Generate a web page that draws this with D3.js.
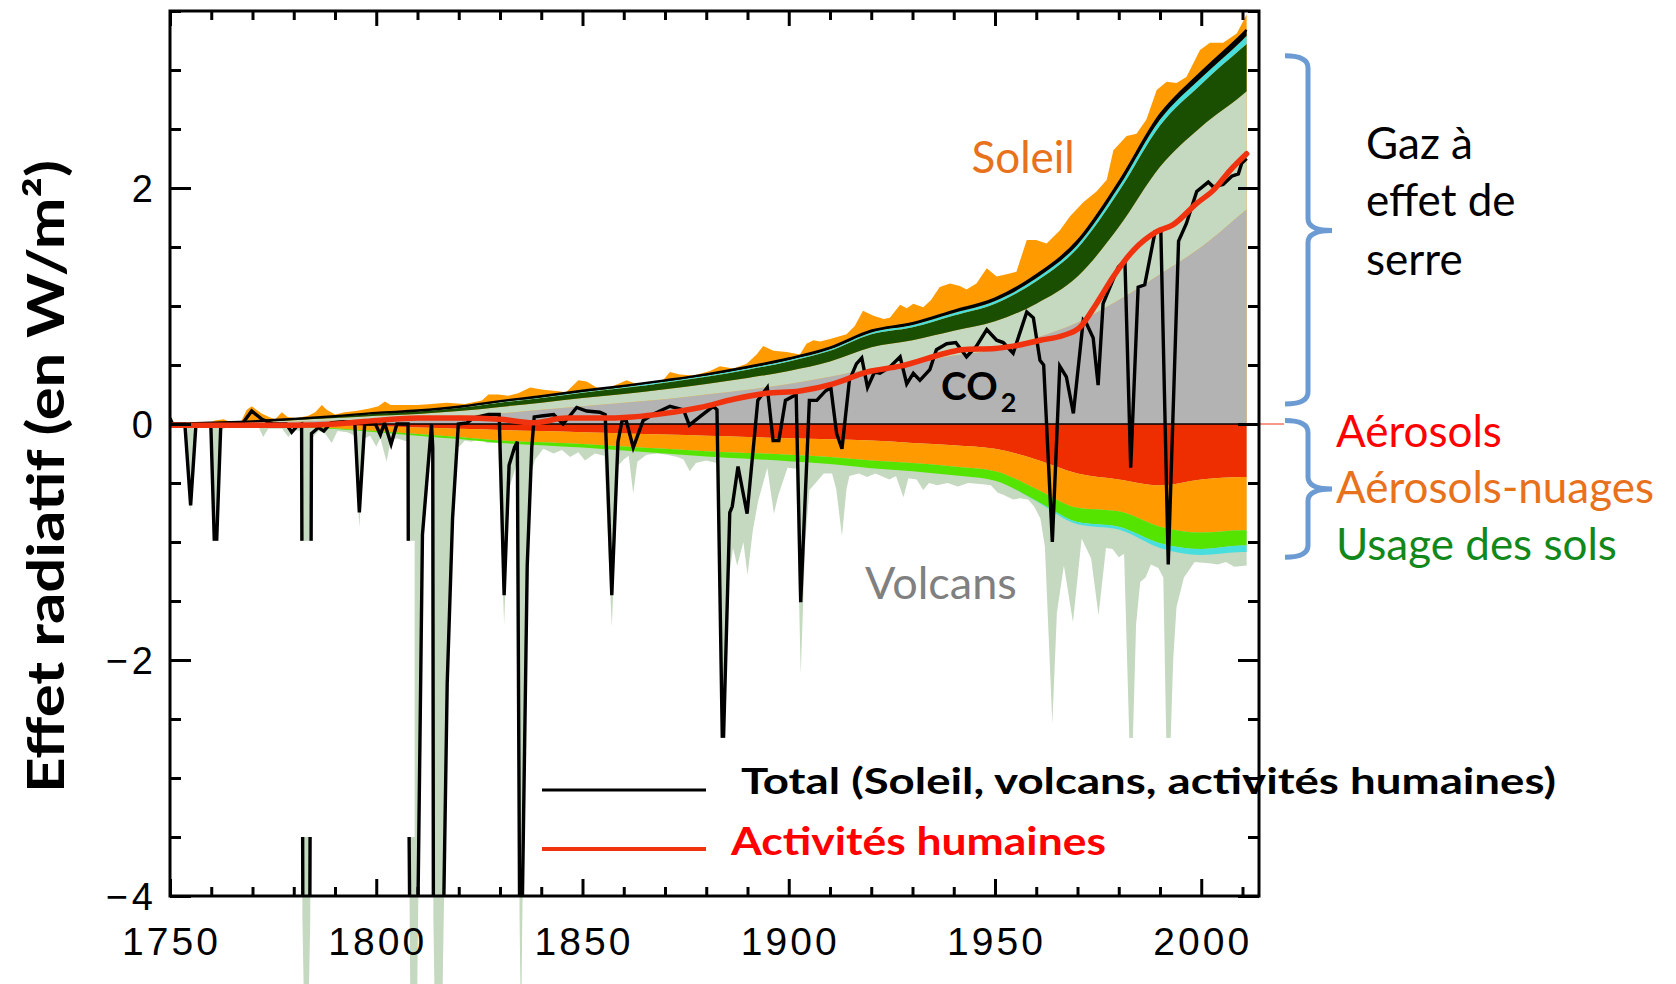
<!DOCTYPE html>
<html lang="fr">
<head>
<meta charset="utf-8">
<title>Effet radiatif 1750–2011</title>
<script src="https://cdn.jsdelivr.net/npm/d3@7"></script>
<style>
  html, body { margin: 0; padding: 0; background: #fff; }
  svg { display: block; }
</style>
</head>
<body>
<svg id="chart" width="1676" height="984"></svg>
<script>
// ---- Décennies et composantes du forçage (W/m²) ----
const annees = [1750,1760,1770,1780,1790,1800,1810,1820,1830,1840,1850,1860,1870,1880,1890,1900,1910,1920,1930,1940,1950,1960,1970,1980,1990,2000,2010,2011];

// composantes positives (empilées vers le haut)
const co2        = [0,0.005,0.01,0.02,0.03,0.04,0.05,0.07,0.09,0.12,0.15,0.18,0.21,0.25,0.29,0.34,0.40,0.47,0.52,0.58,0.63,0.73,0.86,1.05,1.27,1.50,1.79,1.82];
const autresGES  = [0,0.003,0.006,0.012,0.02,0.03,0.035,0.04,0.055,0.06,0.07,0.075,0.085,0.09,0.10,0.11,0.13,0.18,0.19,0.21,0.24,0.29,0.39,0.62,0.91,1.02,1.00,1.00];
const ozone      = [0,0.002,0.004,0.008,0.012,0.017,0.02,0.025,0.035,0.04,0.045,0.05,0.055,0.06,0.07,0.08,0.09,0.11,0.11,0.13,0.15,0.19,0.24,0.30,0.35,0.36,0.40,0.40];
const vapeurStrato = [0,0,0,0,0,0.002,0.003,0.004,0.006,0.007,0.008,0.009,0.01,0.011,0.012,0.013,0.014,0.016,0.018,0.02,0.022,0.025,0.03,0.04,0.05,0.055,0.065,0.07];
const carboneSuie  = [0,0,0.002,0.003,0.004,0.005,0.006,0.007,0.008,0.008,0.009,0.009,0.01,0.01,0.011,0.012,0.013,0.015,0.016,0.018,0.02,0.025,0.03,0.035,0.04,0.045,0.05,0.05];

// composantes négatives (empilées vers le bas)
const aerosols       = [0,-0.001,-0.003,-0.006,-0.01,-0.02,-0.03,-0.04,-0.05,-0.06,-0.07,-0.08,-0.09,-0.10,-0.11,-0.12,-0.13,-0.14,-0.16,-0.18,-0.21,-0.30,-0.42,-0.47,-0.52,-0.47,-0.45,-0.45];
const aerosolsNuages = [0,-0.003,-0.006,-0.015,-0.025,-0.04,-0.055,-0.07,-0.09,-0.095,-0.10,-0.11,-0.12,-0.13,-0.135,-0.14,-0.15,-0.17,-0.17,-0.18,-0.19,-0.25,-0.29,-0.27,-0.35,-0.45,-0.45,-0.45];
const usageSols      = [0,-0.001,-0.002,-0.004,-0.007,-0.01,-0.015,-0.018,-0.02,-0.025,-0.03,-0.035,-0.04,-0.045,-0.05,-0.055,-0.06,-0.065,-0.07,-0.075,-0.08,-0.10,-0.12,-0.13,-0.14,-0.14,-0.13,-0.13];
const autresNeg      = [0,0,0,0,0,0,0,0,0,0,0,0,0,0,0,0,0,0,0,0,0,-0.005,-0.02,-0.025,-0.04,-0.05,-0.055,-0.055];

// enveloppe haute de la bande solaire [année, W/m²]
const soleil = [[1750,0],[1759,0],[1760.9,0.03],[1763,0.04],[1765,0.01],[1767,0.005],[1768.6,0.12],[1769.8,0.15],[1772.2,0.09],[1774,0.06],[1775.5,0.04],[1777.1,0.10],[1778.5,0.06],[1780.5,0.05],[1782,0.06],[1783.5,0.07],[1785.2,0.10],[1786.8,0.16],[1788,0.12],[1790,0.08],[1792.4,0.10],[1795,0.11],[1798.1,0.13],[1800.5,0.15],[1802.1,0.19],[1803.5,0.16],[1807,0.16],[1810,0.16],[1813.4,0.17],[1817,0.18],[1821.5,0.17],[1825.6,0.2],[1827.2,0.25],[1829.6,0.25],[1832,0.24],[1834.4,0.26],[1837.3,0.31],[1840.5,0.29],[1843.7,0.28],[1846,0.27],[1849,0.37],[1851,0.36],[1853.4,0.31],[1856,0.3],[1860.7,0.37],[1863,0.34],[1866.4,0.31],[1869.5,0.37],[1871.2,0.44],[1873.6,0.42],[1876.9,0.41],[1880.9,0.45],[1883.3,0.49],[1886.6,0.47],[1889.8,0.51],[1892.2,0.59],[1893.8,0.66],[1896.3,0.62],[1899.5,0.61],[1902.7,0.59],[1904.3,0.68],[1906,0.71],[1907.6,0.7],[1910,0.72],[1914,0.76],[1916,0.83],[1918,0.96],[1920.4,0.92],[1923,0.89],[1924.5,0.9],[1927,1.01],[1928.6,0.98],[1930.2,1.02],[1932.6,0.99],[1934.5,1.05],[1936.6,1.16],[1939.1,1.19],[1941.5,1.17],[1943.1,1.14],[1945.5,1.19],[1948,1.32],[1950.4,1.25],[1952.8,1.27],[1955.2,1.29],[1957.7,1.56],[1960,1.56],[1962.5,1.53],[1965.7,1.64],[1968.2,1.76],[1971.4,1.88],[1974.6,1.97],[1977.1,2.07],[1978.7,2.32],[1981.9,2.44],[1984.3,2.46],[1986.7,2.58],[1989.2,2.83],[1991.6,2.9],[1994,2.89],[1996.4,2.94],[1999.7,3.17],[2002.1,3.23],[2005.3,3.23],[2008.6,3.31],[2011,3.47]];

// enveloppe basse de la bande volcanique [année, W/m²]
const volcans = [[1750,0],[1753.6,-0.01],[1755,-0.75],[1756.3,-0.03],[1759.9,-0.03],[1761,-1.4],[1762.3,-0.05],[1765,-0.01],[1771.4,-0.02],[1772.6,-0.11],[1773.8,-0.04],[1777.2,-0.04],[1778.7,-0.11],[1780,-0.05],[1781.8,-0.06],[1782.1,-4.2],[1783.05,-6],[1784,-4.2],[1784.4,-0.12],[1786,-0.06],[1787.6,-0.08],[1789.2,-0.16],[1790.6,-0.06],[1793,-0.07],[1794.8,-0.1],[1795.9,-0.88],[1797.2,-0.12],[1798.5,-0.1],[1800,-0.19],[1801,-0.12],[1802.5,-0.32],[1803.5,-0.14],[1805,-0.12],[1807.6,-0.15],[1807.9,-3.2],[1808.6,-6.5],[1809.7,-6],[1810,-4.6],[1811.2,-1.05],[1813.3,-0.15],[1813.7,-0.3],[1813.85,-4.2],[1815.1,-7],[1816.35,-4.2],[1817.2,-2.3],[1818.5,-0.9],[1819.9,-0.2],[1821.5,-0.14],[1823,-0.15],[1825,-0.13],[1827,-0.16],[1829.5,-0.16],[1831,-1.7],[1832.2,-0.55],[1833.5,-0.4],[1834.2,-0.3],[1834.75,-4.2],[1835.1,-5.2],[1835.4,-4.2],[1836.6,-1.4],[1837.7,-0.4],[1838.5,-0.3],[1840.5,-0.21],[1843,-0.25],[1845,-0.22],[1847,-0.28],[1849,-0.24],[1850.6,-0.31],[1853,-0.25],[1855.3,-0.27],[1857.1,-1.72],[1858.7,-0.35],[1860,-0.3],[1861.2,-0.27],[1862.3,-0.59],[1863.3,-0.32],[1865.5,-0.26],[1868,-0.25],[1870.5,-0.26],[1873,-0.28],[1874.5,-0.3],[1876,-0.4],[1877.5,-0.33],[1880,-0.31],[1882.6,-0.33],[1884,-3.2],[1885.5,-1.3],[1886.5,-1.05],[1887.5,-1.2],[1889,-1.0],[1890,-1.28],[1891.3,-0.9],[1892.6,-0.65],[1894.8,-0.37],[1896.4,-0.76],[1897.5,-0.6],[1899.7,-0.37],[1901.8,-0.38],[1902.9,-2.12],[1904,-1.0],[1905,-0.56],[1906.5,-0.5],[1908.5,-0.42],[1910.5,-0.42],[1911.5,-0.55],[1912.9,-0.95],[1914,-0.55],[1914.7,-0.44],[1917,-0.42],[1919,-0.45],[1921,-0.42],[1924.4,-0.47],[1926,-0.44],[1927.8,-0.62],[1929,-0.46],[1931,-0.47],[1932.6,-0.56],[1934,-0.5],[1936,-0.52],[1938.5,-0.5],[1941,-0.53],[1943.5,-0.5],[1947,-0.51],[1949,-0.52],[1950.6,-0.58],[1952,-0.6],[1954.4,-0.64],[1956,-0.63],[1958,-0.64],[1959.5,-0.7],[1961,-0.8],[1962.1,-1.04],[1963.9,-2.54],[1965,-1.6],[1966.7,-1.2],[1968.9,-1.68],[1971,-0.97],[1973.3,-1.14],[1975.1,-1.62],[1976.9,-1.05],[1978.5,-1.06],[1980,-1.13],[1981.3,-1.1],[1983,-3.2],[1984.2,-1.7],[1985.2,-1.34],[1986.5,-1.3],[1987.8,-1.19],[1989.6,-1.22],[1990.8,-1.3],[1991.9,-3.4],[1993.2,-2.0],[1994,-1.55],[1995.8,-1.3],[1998.4,-1.17],[2001.9,-1.18],[2004,-1.19],[2006,-1.17],[2008,-1.21],[2011,-1.2]];

// forçage total (Soleil + volcans + activités humaines) [année, W/m²]
const total = [[1750,0.05],[1750.6,0],[1753.6,0],[1755,-0.69],[1756.3,0],[1759.9,-0.01],[1761,-1.3],[1762.3,-0.02],[1767.5,0],[1769.8,0.11],[1772.3,0.04],[1775,0],[1778.2,0],[1779.5,-0.07],[1781,-0.01],[1781.9,0],[1782.2,-4.1],[1783.05,-5.8],[1783.9,-4.1],[1784.3,-0.08],[1786,-0.03],[1787.3,-0.06],[1789,0.01],[1792,0.02],[1794.8,0.01],[1795.9,-0.75],[1797.2,0],[1799.8,0],[1801,-0.09],[1802,0.01],[1803.6,-0.17],[1805,0],[1807.7,0],[1807.9,-3.2],[1808.6,-6.3],[1809.7,-5.8],[1810,-4.4],[1811.2,-0.94],[1813.4,0],[1813.7,-0.2],[1813.85,-4.1],[1815.1,-6.8],[1816.35,-4.1],[1817.2,-2.2],[1818.5,-0.8],[1819.9,0],[1822,0.01],[1823.5,0.05],[1827.2,0.08],[1829.8,0.08],[1831,-1.45],[1832.2,-0.35],[1833.5,-0.2],[1834.2,-0.15],[1834.75,-4.1],[1835.1,-5],[1835.4,-4.1],[1836.6,-1.2],[1837.7,-0.2],[1838.3,0.06],[1840.5,0.07],[1843,0.08],[1845.3,0],[1848.6,0.14],[1851,0.11],[1854.2,0.1],[1855.5,0.08],[1857.1,-1.45],[1858.6,-0.15],[1859.6,0.03],[1860.6,0.03],[1862.3,-0.2],[1864.7,0.03],[1867,0.08],[1871.2,0.15],[1874.5,0.12],[1875.9,-0.01],[1878.4,0.06],[1881.7,0.15],[1882.6,0.12],[1884,-2.9],[1885.7,-0.75],[1886.3,-0.7],[1887.7,-0.36],[1889.9,-0.76],[1892.5,0.2],[1894.8,0.31],[1896.2,-0.14],[1897.6,-0.14],[1899.2,0.2],[1901.8,0.25],[1902.9,-1.51],[1905,0.2],[1906.8,0.2],[1908.9,0.28],[1910.2,0.31],[1911.6,-0.08],[1912.9,-0.21],[1914.7,0.37],[1916.4,0.51],[1917.7,0.56],[1919.1,0.31],[1920.8,0.44],[1922.1,0.43],[1924.4,0.48],[1927,0.57],[1928.6,0.34],[1930.2,0.43],[1931.8,0.37],[1934.2,0.46],[1935.8,0.63],[1938.3,0.68],[1940.5,0.69],[1943.1,0.57],[1945.5,0.66],[1948,0.8],[1950.4,0.71],[1952,0.69],[1954.4,0.6],[1957.7,0.95],[1959.3,0.9],[1960.9,0.54],[1961.8,0.5],[1963.9,-1.0],[1965.7,0.49],[1967.3,0.4],[1969,0.09],[1971.4,0.88],[1972.2,0.85],[1973.8,0.73],[1975,0.33],[1976.2,1.02],[1979.9,1.33],[1981.5,1.38],[1982.9,-0.37],[1984.7,1.16],[1986.3,1.18],[1988.8,1.63],[1990.2,1.64],[1992,-1.19],[1994.5,1.55],[1996.4,1.7],[1998.9,1.97],[2001.7,2.05],[2002.9,2.01],[2005.3,2.03],[2007.4,2.1],[2009,2.12],[2009.8,2.21],[2011,2.25]];

// forçage dû aux seules activités humaines [année, W/m²]
const humain = [[1750,-0.01],[1760,-0.01],[1770,-0.01],[1780,-0.01],[1790,0],[1800,0.03],[1810,0.05],[1820,0.05],[1830,0.04],[1838,0.01],[1846,0.05],[1854,0.05],[1862,0.06],[1870,0.09],[1878.5,0.14],[1886.6,0.21],[1894.6,0.26],[1902.7,0.28],[1910.8,0.34],[1918.9,0.44],[1927,0.49],[1938,0.6],[1942,0.63],[1950,0.64],[1954.4,0.66],[1961,0.71],[1966.5,0.75],[1970.6,0.82],[1974.6,1.02],[1978.7,1.25],[1983.5,1.47],[1989.2,1.63],[1993.2,1.69],[1998.9,1.87],[2002.9,1.98],[2007,2.15],[2011,2.29]];

// graduations
const etiquettesX = [1750,1800,1850,1900,1950,2000];
const etiquettesY = [-4,-2,0,2];

// ---- Mise en page ----
const W = 1676, H = 984;
const M = { left: 170, right: 1259, top: 11, bottom: 896 };
const svg = d3.select("#chart");

const x = d3.scaleLinear().domain([1750, 2014]).range([M.left, M.right]);
const y = d3.scaleLinear().domain([-4, 3.5]).range([M.bottom, M.top]);

const defs = svg.append("defs");
defs.append("clipPath").attr("id", "clip-cadre").append("rect")
  .attr("x", M.left).attr("y", M.top).attr("width", M.right - M.left).attr("height", M.bottom - M.top);
defs.append("clipPath").attr("id", "clip-volcans").append("rect")
  .attr("x", M.left).attr("y", M.top).attr("width", M.right - M.left).attr("height", H - M.top);

const table = annees.map((a, i) => ({
  annee: a,
  co2: co2[i], autresGES: autresGES[i], ozone: ozone[i], vapeurStrato: vapeurStrato[i], carboneSuie: carboneSuie[i],
  aerosols: aerosols[i], aerosolsNuages: aerosolsNuages[i], usageSols: usageSols[i], autresNeg: autresNeg[i]
}));

const couleurs = {
  co2: "#b3b3b3", autresGES: "#c5d8c0", ozone: "#1a4f02", vapeurStrato: "#48dede", carboneSuie: "#000000",
  aerosols: "#ef2e00", aerosolsNuages: "#ff9b00", usageSols: "#55e300", autresNeg: "#48dede"
};

const pilePos = d3.stack().offset(d3.stackOffsetNone)
  .keys(["co2", "autresGES", "ozone", "vapeurStrato", "carboneSuie"])(table);
const pileNeg = d3.stack().offset(d3.stackOffsetNone)
  .keys(["aerosols", "aerosolsNuages", "usageSols", "autresNeg"])(table);

const aireCouche = d3.area()
  .x(d => x(d.data.annee)).y0(d => y(d[0])).y1(d => y(d[1]))
  .curve(d3.curveMonotoneX);

// bande volcanique (peut dépasser sous le cadre) — dessinée en premier
svg.append("g").attr("clip-path", "url(#clip-volcans)")
  .append("path").datum(volcans)
  .attr("fill", "#c5d8c0")
  .attr("d", d3.area().x(d => x(d[0])).y0(y(0)).y1(d => y(d[1])));

const gTraces = svg.append("g").attr("clip-path", "url(#clip-cadre)");

// bande solaire (sous la pile des gaz)
gTraces.append("path").datum(soleil)
  .attr("fill", "#ff9b00")
  .attr("d", d3.area().x(d => x(d[0])).y0(y(0)).y1(d => y(d[1])));

// couches empilées
gTraces.selectAll("path.pos").data(pilePos).join("path")
  .attr("class", "pos").attr("fill", d => couleurs[d.key]).attr("d", aireCouche);
gTraces.selectAll("path.neg").data(pileNeg).join("path")
  .attr("class", "neg").attr("fill", d => couleurs[d.key]).attr("d", aireCouche);

// liseré noir au sommet de la pile
gTraces.append("path").datum(pilePos[pilePos.length - 1])
  .attr("fill", "none").attr("stroke", "#000").attr("stroke-width", 2.4)
  .attr("d", d3.line().x(d => x(d.data.annee)).y(d => y(d[1])).curve(d3.curveMonotoneX));

// ligne du zéro
gTraces.append("line")
  .attr("x1", M.left).attr("x2", M.right).attr("y1", y(0)).attr("y2", y(0))
  .attr("stroke", "#000").attr("stroke-width", 1.5);

// total
gTraces.append("path").datum(total)
  .attr("fill", "none").attr("stroke", "#000").attr("stroke-width", 3.4).attr("stroke-linejoin", "miter")
  .attr("d", d3.line().x(d => x(d[0])).y(d => y(d[1])));

// activités humaines
gTraces.append("path").datum(humain)
  .attr("fill", "none").attr("stroke", "#f0320f").attr("stroke-width", 5.5).attr("stroke-linecap", "round")
  .attr("d", d3.line().x(d => x(d[0])).y(d => y(d[1])).curve(d3.curveMonotoneX));

svg.append("line")
  .attr("x1", x(2011)).attr("x2", 1284).attr("y1", y(0)).attr("y2", y(0))
  .attr("stroke", "#f03010").attr("stroke-width", 1);

// zones laissées blanches
svg.append("rect")
  .attr("x", x(1750) + 1.5).attr("y", y(-0.99))
  .attr("width", x(1809.3) - x(1750) - 1.5).attr("height", y(-3.5) - y(-0.99))
  .attr("fill", "#fff");
svg.append("rect")
  .attr("x", x(1838)).attr("y", y(-2.66))
  .attr("width", x(2014) - x(1838) - 1.5).attr("height", y(-4) - y(-2.66) - 1.5)
  .attr("fill", "#fff");

// ---- Axes (graduations intérieures sur les quatre côtés) ----
const mineursX = d3.range(1760, 2014, 10).filter(v => v % 50 !== 0);
const majeursX = etiquettesX;
const mineursY = d3.range(-3.5, 3.51, 0.5).filter(v => v % 2 !== 0);
const majeursY = etiquettesY;

function graduer(gen, transform, valeurs, taille) {
  const g = svg.append("g").attr("transform", transform)
    .call(gen.tickValues(valeurs).tickSize(taille).tickFormat(""));
  g.select(".domain").remove();
  g.selectAll(".tick line").attr("stroke", "#000").attr("stroke-width", 3);
}
graduer(d3.axisBottom(x), `translate(0,${M.bottom})`, mineursX, -9);
graduer(d3.axisBottom(x), `translate(0,${M.bottom})`, majeursX, -17);
graduer(d3.axisTop(x), `translate(0,${M.top})`, mineursX, -9);
graduer(d3.axisTop(x), `translate(0,${M.top})`, majeursX, -15);
graduer(d3.axisLeft(y), `translate(${M.left},0)`, mineursY, -11);
graduer(d3.axisLeft(y), `translate(${M.left},0)`, majeursY, -21);
graduer(d3.axisRight(y), `translate(${M.right},0)`, mineursY, -11);
graduer(d3.axisRight(y), `translate(${M.right},0)`, majeursY, -21);

svg.append("rect")
  .attr("x", M.left).attr("y", M.top).attr("width", M.right - M.left).attr("height", M.bottom - M.top)
  .attr("fill", "none").attr("stroke", "#000").attr("stroke-width", 3);

const policeAxe = "'Liberation Sans', Arial, sans-serif";
svg.append("g").selectAll("text").data(etiquettesX).join("text")
  .attr("x", d => x(d) + 1.5).attr("y", 955)
  .attr("text-anchor", "middle")
  .attr("font-family", policeAxe).attr("font-size", 39).attr("letter-spacing", 3)
  .text(d => d);
svg.append("g").selectAll("text").data(etiquettesY).join("text")
  .attr("x", 157).attr("y", d => y(d)).attr("dy", "0.36em")
  .attr("text-anchor", "end")
  .attr("font-family", policeAxe).attr("font-size", 38).attr("letter-spacing", 4)
  .text(d => d < 0 ? "\u2212" + Math.abs(d) : d);

// titre de l'axe vertical
svg.append("text")
  .attr("transform", `translate(64,${(y(-4) + y(3.5)) / 2 + 23}) rotate(-90)`)
  .attr("text-anchor", "middle")
  .attr("font-family", "Lato, 'Open Sans', sans-serif").attr("font-weight", 700).attr("font-size", 51)
  .attr("textLength", 633).attr("lengthAdjust", "spacingAndGlyphs")
  .text("Effet radiatif (en W/m²)");

// ---- Annotations ----
const police = "Lato, 'Open Sans', sans-serif";
svg.append("text").attr("x", x(1944.3)).attr("y", y(2.13))
  .attr("font-family", police).attr("font-size", 44).attr("fill", "#e8711c").text("Soleil");

const tCO2 = svg.append("text").attr("x", x(1936.9)).attr("y", y(0.2))
  .attr("font-family", police).attr("font-weight", 700).attr("font-size", 39).attr("fill", "#000");
tCO2.append("tspan").text("CO");
tCO2.append("tspan").attr("font-size", 27).attr("dy", 12).attr("dx", 3).text("2");

svg.append("text").attr("x", x(1918.5)).attr("y", y(-1.48))
  .attr("font-family", police).attr("font-size", 45).attr("fill", "#808080").text("Volcans");

// accolades
const accolade = (haut, pointe, bas) => {
  const xa = 1285, xv = 1308, xp = 1332, r = 12;
  return `M${xa},${haut} Q${xv},${haut} ${xv},${haut + r} L${xv},${pointe - r} Q${xv},${pointe} ${xp},${pointe}` +
         ` Q${xv},${pointe} ${xv},${pointe + r} L${xv},${bas - r} Q${xv},${bas} ${xa},${bas}`;
};
svg.append("path").attr("d", accolade(y(3.12), y(1.64), y(0.17)))
  .attr("fill", "none").attr("stroke", "#6b9bd2").attr("stroke-width", 5);
svg.append("path").attr("d", accolade(y(0.03), y(-0.55), y(-1.13)))
  .attr("fill", "none").attr("stroke", "#6b9bd2").attr("stroke-width", 5);

const gGaz = svg.append("text").attr("font-family", police).attr("font-size", 44).attr("fill", "#000");
[["Gaz à", 159], ["effet de", 216], ["serre", 275]].forEach(([t, yy]) =>
  gGaz.append("tspan").attr("x", 1366).attr("y", yy).text(t));

[["Aérosols", "#ff0000", 447], ["Aérosols-nuages", "#e8711c", 503], ["Usage des sols", "#12881a", 560]]
  .forEach(([t, c, yy]) => svg.append("text").attr("x", 1336).attr("y", yy)
    .attr("font-family", police).attr("font-size", 44).attr("fill", c).text(t));

// légende
svg.append("line").attr("x1", 542).attr("x2", 706).attr("y1", 790).attr("y2", 790)
  .attr("stroke", "#000").attr("stroke-width", 3.2);
svg.append("line").attr("x1", 542).attr("x2", 706).attr("y1", 849).attr("y2", 849)
  .attr("stroke", "#f0320f").attr("stroke-width", 4);
svg.append("text").attr("x", 741).attr("y", 794)
  .attr("font-family", police).attr("font-weight", 700).attr("font-size", 37)
  .attr("textLength", 815).attr("lengthAdjust", "spacingAndGlyphs")
  .text("Total (Soleil, volcans, activités humaines)");
svg.append("text").attr("x", 731).attr("y", 855)
  .attr("font-family", police).attr("font-weight", 700).attr("font-size", 39).attr("fill", "#ff0000")
  .attr("textLength", 375).attr("lengthAdjust", "spacingAndGlyphs")
  .text("Activités humaines");
</script>
</body>
</html>
